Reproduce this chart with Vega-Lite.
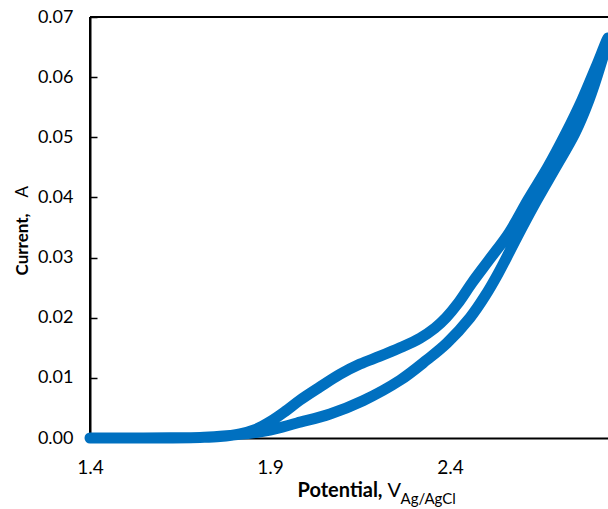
{
  "$schema": "https://vega.github.io/schema/vega-lite/v6.json",
  "width": 518,
  "height": 421,
  "autosize": "none",
  "padding": {"left": 90, "top": 17, "right": 0, "bottom": 71},
  "background": "white",
  "config": {"view": {"stroke": null}, "font": "Lato", "axis": {"grid": false}},
  "layer": [
    {
      "data": {"values": [{}]},
      "mark": {"type": "rule", "color": "black", "strokeWidth": 2},
      "encoding": {
        "y": {"datum": 0.07, "type": "quantitative", "axis": {"orient": "left", "labels": false, "ticks": false, "domain": false, "title": "A", "titleFont": "Lato", "titleFontSize": 17, "titleFontWeight": "normal", "titleColor": "black", "titleAngle": -90, "titleX": -63, "titleY": 180, "titleAlign": "left", "titleBaseline": "alphabetic"}}
      }
    },
    {
      "data": {"values": [{}]},
      "mark": {"type": "rule", "color": "black", "strokeWidth": 2},
      "encoding": {
        "x": {"datum": 1.4, "type": "quantitative", "axis": {"orient": "bottom", "labels": false, "ticks": false, "domain": false, "title": "V", "titleFont": "Lato", "titleFontSize": 20, "titleFontWeight": "normal", "titleColor": "black", "titleX": 297, "titleY": 58, "titleAlign": "left", "titleBaseline": "alphabetic", "titleAngle": 0}}
      }
    },
    {
      "data": {"values": [{}]},
      "mark": {"type": "rule", "color": "black", "strokeWidth": 2},
      "encoding": {
        "x": {"datum": 1.4, "type": "quantitative", "axis": {"orient": "bottom", "labels": false, "ticks": false, "domain": false, "title": "Ag/AgCl", "titleFont": "Lato", "titleFontSize": 15, "titleFontWeight": "normal", "titleColor": "black", "titleX": 310, "titleY": 65, "titleAlign": "left", "titleBaseline": "alphabetic", "titleAngle": 0}}
      }
    },
    {
      "data": {"values": [
        {"k": 1, "V": 1.4, "I": 0},
        {"k": 2, "V": 1.5111, "I": 0},
        {"k": 3, "V": 1.6222, "I": 0.00003},
        {"k": 4, "V": 1.7056, "I": 0.0001},
        {"k": 5, "V": 1.7611, "I": 0.0003},
        {"k": 6, "V": 1.8167, "I": 0.0006},
        {"k": 7, "V": 1.8583, "I": 0.0009},
        {"k": 8, "V": 1.9, "I": 0.0013},
        {"k": 9, "V": 1.975, "I": 0.0025},
        {"k": 10, "V": 2.0667, "I": 0.004},
        {"k": 11, "V": 2.1583, "I": 0.0062},
        {"k": 12, "V": 2.2611, "I": 0.0096},
        {"k": 13, "V": 2.3361, "I": 0.013},
        {"k": 14, "V": 2.3917, "I": 0.0158},
        {"k": 15, "V": 2.4556, "I": 0.02},
        {"k": 16, "V": 2.4972, "I": 0.0236},
        {"k": 17, "V": 2.5333, "I": 0.0273},
        {"k": 18, "V": 2.5681, "I": 0.0313},
        {"k": 19, "V": 2.6028, "I": 0.0353},
        {"k": 20, "V": 2.6417, "I": 0.0396},
        {"k": 21, "V": 2.6944, "I": 0.0451},
        {"k": 22, "V": 2.7472, "I": 0.0507},
        {"k": 23, "V": 2.7861, "I": 0.0562},
        {"k": 24, "V": 2.8167, "I": 0.0617},
        {"k": 25, "V": 2.8389, "I": 0.0665},
        {"k": 26, "V": 2.8056, "I": 0.0617},
        {"k": 27, "V": 2.7667, "I": 0.0562},
        {"k": 28, "V": 2.7222, "I": 0.0507},
        {"k": 29, "V": 2.6722, "I": 0.0451},
        {"k": 30, "V": 2.6167, "I": 0.0396},
        {"k": 31, "V": 2.5639, "I": 0.0341},
        {"k": 32, "V": 2.5083, "I": 0.0296},
        {"k": 33, "V": 2.4611, "I": 0.0258},
        {"k": 34, "V": 2.4222, "I": 0.0224},
        {"k": 35, "V": 2.3889, "I": 0.02},
        {"k": 36, "V": 2.3583, "I": 0.0183},
        {"k": 37, "V": 2.3167, "I": 0.0166},
        {"k": 38, "V": 2.2611, "I": 0.015},
        {"k": 39, "V": 2.2056, "I": 0.0136},
        {"k": 40, "V": 2.15, "I": 0.0123},
        {"k": 41, "V": 2.0944, "I": 0.0106},
        {"k": 42, "V": 2.0389, "I": 0.0085},
        {"k": 43, "V": 1.9833, "I": 0.0063},
        {"k": 44, "V": 1.9417, "I": 0.0044},
        {"k": 45, "V": 1.9, "I": 0.0027},
        {"k": 46, "V": 1.8583, "I": 0.0014},
        {"k": 47, "V": 1.8167, "I": 0.0007},
        {"k": 48, "V": 1.7611, "I": 0.00025},
        {"k": 49, "V": 1.7056, "I": 0.0001},
        {"k": 50, "V": 1.5944, "I": 0},
        {"k": 51, "V": 1.5111, "I": 0},
        {"k": 52, "V": 1.4, "I": 0}
      ]},
      "mark": {"type": "line", "color": "#0070C0", "strokeWidth": 11, "strokeCap": "round", "strokeJoin": "round", "interpolate": "catmull-rom"},
      "encoding": {
        "order": {"field": "k", "type": "quantitative"},
        "x": {
          "field": "V", "type": "quantitative",
          "scale": {"domain": [1.4, 2.8389], "nice": false, "zero": false},
          "axis": {"orient": "bottom", "values": [1.4, 1.9, 2.4], "format": ".1f", "ticks": false, "labelFlush": false, "labelFont": "Lato", "labelFontSize": 19, "labelColor": "black", "labelPadding": 20, "domainColor": "black", "domainWidth": 2, "title": "Potential,", "titleFont": "Lato", "titleFontSize": 20, "titleFontWeight": "bold", "titleColor": "black", "titleX": 207, "titleY": 58, "titleAlign": "left", "titleBaseline": "alphabetic", "titleAngle": 0}
        },
        "y": {
          "field": "I", "type": "quantitative",
          "scale": {"domain": [0, 0.07], "nice": false},
          "axis": {"orient": "left", "values": [0, 0.01, 0.02, 0.03, 0.04, 0.05, 0.06, 0.07], "format": ".2f", "tickSize": -7, "tickWidth": 1.5, "tickColor": "black", "labelFlush": false, "labelFont": "Lato", "labelFontSize": 18, "labelColor": "black", "labelPadding": 24, "domainColor": "black", "domainWidth": 2, "title": "Current,", "titleFont": "Lato", "titleFontSize": 17, "titleFontWeight": "bold", "titleColor": "black", "titleAngle": -90, "titleX": -63, "titleY": 258, "titleAlign": "left", "titleBaseline": "alphabetic"}
        }
      }
    }
  ],
  "resolve": {"axis": {"x": "independent", "y": "independent"}}
}
